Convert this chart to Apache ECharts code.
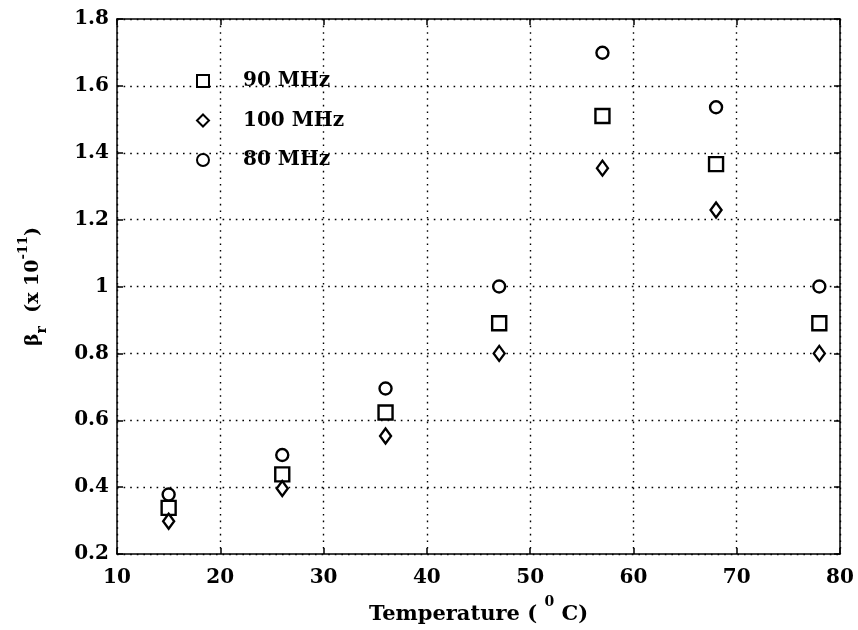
<!DOCTYPE html>
<html>
<head>
<meta charset="utf-8">
<script src="https://cdn.jsdelivr.net/npm/echarts@6/dist/echarts.min.js"></script>
<style>
html,body{margin:0;padding:0;background:#fff;}
#chart{width:858px;height:630px;}
</style>
</head>
<body>
<div id="chart"></div>
<script>
const temperatures = [15, 26, 36, 47, 57, 68, 78];
const mhz90 = [0.338, 0.438, 0.623, 0.89, 1.51, 1.366, 0.89];
const mhz100 = [0.298, 0.396, 0.553, 0.80, 1.354, 1.229, 0.80];
const mhz80 = [0.378, 0.496, 0.695, 1.00, 1.699, 1.536, 1.00];
const seriesNames = ['90 MHz', '100 MHz', '80 MHz'];

const FONT = 'DejaVu Serif';
const chart = echarts.init(document.getElementById('chart'));

function pairs(vals){ return temperatures.map((t,i)=>[t, vals[i]]); }

const markerStyle = {color:'#fff', borderColor:'#000', borderWidth:2.4, opacity:1};

const gridLine = {show:true, lineStyle:{color:'#000', type:[1.6,5], width:1.4}};
const axisBase = {
  axisLine:{show:true, onZero:false, lineStyle:{color:'#000', width:1.5}},
  axisTick:{show:true, inside:true, length:6, lineStyle:{color:'#000', width:1.5}}
};

chart.setOption({
  backgroundColor:'#fff',
  animation:false,
  grid:{left:117, right:18, top:19, bottom:76, containLabel:false, outerBoundsMode:'none'},
  legend:{
    orient:'vertical', left:191, top:66, itemGap:19.5,
    itemWidth:12, itemHeight:12,
    textStyle:{fontFamily:FONT, fontWeight:'bold', fontSize:20, lineHeight:20, color:'#000', padding:[0,0,0,29]},
    data:seriesNames
  },
  xAxis:[
    Object.assign({type:'value', min:10, max:80, interval:10, position:'bottom',
      splitLine:gridLine,
      axisLabel:{fontFamily:FONT, fontWeight:'bold', fontSize:20, color:'#000', margin:14},
      name:'{t|Temperature ( }{s|0}{t| C)}', nameLocation:'middle', nameGap:41,
      nameTextStyle:{rich:{
        t:{fontFamily:FONT, fontWeight:'bold', fontSize:21, color:'#000', lineHeight:30, verticalAlign:'bottom'},
        s:{fontFamily:FONT, fontWeight:'bold', fontSize:14, color:'#000', lineHeight:30, verticalAlign:'top'}
      }}
    }, axisBase),
    Object.assign({type:'value', min:10, max:80, interval:10, position:'top',
      splitLine:{show:false}, axisLabel:{show:false}}, axisBase)
  ],
  yAxis:[
    Object.assign({type:'value', min:0.2, max:1.8, interval:0.2, position:'left',
      splitLine:gridLine,
      axisLabel:{fontFamily:FONT, fontWeight:'bold', fontSize:20, color:'#000', margin:8,
        formatter:v=>String(Math.round(v*10)/10)},
      name:'{b|β}{r|r}{t|  (x 10}{s|-11}{t|)}', nameLocation:'middle', nameGap:68, nameRotate:90,
      nameTextStyle:{rich:{
        b:{fontFamily:FONT, fontWeight:'bold', fontSize:19, color:'#000', lineHeight:32, verticalAlign:'middle'},
        r:{fontFamily:FONT, fontWeight:'bold', fontSize:14, color:'#000', lineHeight:32, verticalAlign:'bottom'},
        t:{fontFamily:FONT, fontWeight:'bold', fontSize:19, color:'#000', lineHeight:32, verticalAlign:'middle'},
        s:{fontFamily:FONT, fontWeight:'bold', fontSize:13, color:'#000', lineHeight:32, verticalAlign:'top'}
      }}
    }, axisBase),
    Object.assign({type:'value', min:0.2, max:1.8, interval:0.2, position:'right',
      splitLine:{show:false}, axisLabel:{show:false}}, axisBase)
  ],
  series:[
    {name:seriesNames[0], type:'scatter', symbol:'rect', symbolSize:14, data:pairs(mhz90), itemStyle:markerStyle, z:3},
    {name:seriesNames[1], type:'scatter', symbol:'diamond', symbolSize:[11,15], data:pairs(mhz100), itemStyle:markerStyle, z:3},
    {name:seriesNames[2], type:'scatter', symbol:'circle', symbolSize:12, data:pairs(mhz80), itemStyle:markerStyle, z:3}
  ]
});
</script>
</body>
</html>
